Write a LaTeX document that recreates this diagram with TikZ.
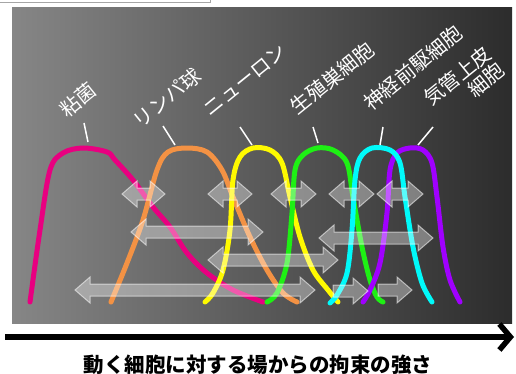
\documentclass[tikz,border=0pt]{standalone}
\usepackage{fontspec}
\newfontfamily\jp{Noto Sans CJK JP}
\usetikzlibrary{arrows.meta}
\definecolor{cmag}{RGB}{232,0,128}
\definecolor{corg}{RGB}{243,146,68}
\definecolor{cyel}{RGB}{255,250,0}
\definecolor{cgrn}{RGB}{30,240,20}
\definecolor{ccyn}{RGB}{0,250,250}
\definecolor{cpur}{RGB}{160,0,255}
\definecolor{pleft}{RGB}{134,134,134}
\definecolor{pright}{RGB}{44,44,44}
\newcommand\garrowD[3]{%
  \path[garrow] (#1,#3) -- (#1+15,#3-13) -- (#1+15,#3-6) -- (#2-15,#3-6) -- (#2-15,#3-13) -- (#2,#3)
    -- (#2-15,#3+13) -- (#2-15,#3+6) -- (#1+15,#3+6) -- (#1+15,#3+13) -- cycle;}
\newcommand\garrowR[3]{%
  \path[garrow] (#1,#3-6) -- (#2-15,#3-6) -- (#2-15,#3-13) -- (#2,#3)
    -- (#2-15,#3+13) -- (#2-15,#3+6) -- (#1,#3+6) -- cycle;}
\begin{document}
\begin{tikzpicture}[x=1pt,y=-1pt,
  curve/.style={line width=5pt, line cap=round, line join=round},
  lbl/.style={text=white, font=\jp\fontsize{20}{21}\selectfont, rotate=39, inner sep=0pt},
  tick/.style={white, line width=1.5pt},
  garrow/.style={fill=white, fill opacity=0.35, draw=white, draw opacity=0.55, line width=1pt, line join=miter},
]
\useasboundingbox (0,0) rectangle (516,374);
\fill[white] (0,0) rectangle (516,374);
\draw[gray!70, line width=1pt] (0,3) -- (210,3) -- (210,0);
\shade[left color=pleft, right color=pright] (12,8) rectangle (512,323);

% curves
\draw[curve, cmag] plot[smooth, tension=0.55] coordinates {(30,302) (40,230) (50,170) (63,153) (83,148) (107,152) (115,160) (133,180) (153,207) (170,227) (187,253) (207,273) (233,290) (263,302)};
\draw[curve, corg] plot[smooth, tension=0.55] coordinates {(111,302) (127,263) (143,220) (157,170) (168,152) (187,148) (207,152) (222,170) (233,197) (250,237) (267,270) (283,293) (297,302)};
\draw[curve, cyel] plot[smooth, tension=0.55] coordinates {(205,302) (213,293) (223,270) (230,230) (233,180) (240,157) (253,148) (270,150) (282,163) (290,197) (300,237) (313,270) (328,290) (338,302)};
\draw[curve, cgrn] plot[smooth, tension=0.55] coordinates {(267,302) (277,293) (287,263) (292,213) (295,170) (303,155) (317,148) (333,150) (347,163) (353,197) (362,247) (370,280) (377,297) (383,302)};
\draw[curve, cpur] plot[smooth, tension=0.55] coordinates {(363,302) (370,290) (380,263) (387,213) (390,170) (397,153) (410,148) (423,150) (432,163) (437,197) (443,247) (450,280) (460,302)};
\draw[curve, ccyn] plot[smooth, tension=0.55] coordinates {(330,303) (337,295) (347,273) (352,230) (355,180) (360,158) (372,148) (390,150) (400,163) (405,197) (413,247) (422,283) (432,302)};

% translucent arrows
\garrowD{122}{165}{194}
\garrowD{208}{252}{194}
\garrowD{271}{316}{194}
\garrowD{329}{374}{194}
\garrowD{377}{423}{194}
\garrowD{131}{263}{232}
\garrowD{319}{433}{238}
\garrowD{208}{338}{260}
\garrowD{75}{315}{290}
\garrowR{333}{368}{291}
\garrowR{378}{412}{290}

% labels
\node[lbl] (l1) at (78,100) {粘菌};
\node[lbl] (l2) at (167,98) {リンパ球};
\node[lbl] (l3) at (245,80) {ニューロン};
\node[lbl] (l4) at (332,78) {生殖巣細胞};
\node[lbl] (l5) at (413,68) {神経前駆細胞};
\node[lbl, align=right] (l6) at (464,84) {気管上皮\\細胞};

\coordinate (t1a) at (84,123); \coordinate (t1b) at (88,142);
\coordinate (t2a) at (163,126); \coordinate (t2b) at (175,145);
\coordinate (t3a) at (240,127); \coordinate (t3b) at (252,145);
\coordinate (t4a) at (313,127); \coordinate (t4b) at (318,143);
\coordinate (t5a) at (383,127); \coordinate (t5b) at (380,145);
\coordinate (t6a) at (433,127); \coordinate (t6b) at (418,145);
\foreach \i in {1,...,6} \draw[tick] (t\i a) -- (t\i b);

% axis
\coordinate (ax1) at (5,337);
\coordinate (ax2) at (514,337);
\draw[line width=5.5pt, -{Straight Barb[length=11pt,width=26pt]}] (ax1) -- (ax2);
\node[font=\jp\bfseries\fontsize{20.5}{22}\selectfont, inner sep=0pt] (cap) at (258,365) {動く細胞に対する場からの拘束の強さ};
\end{tikzpicture}
\end{document}
